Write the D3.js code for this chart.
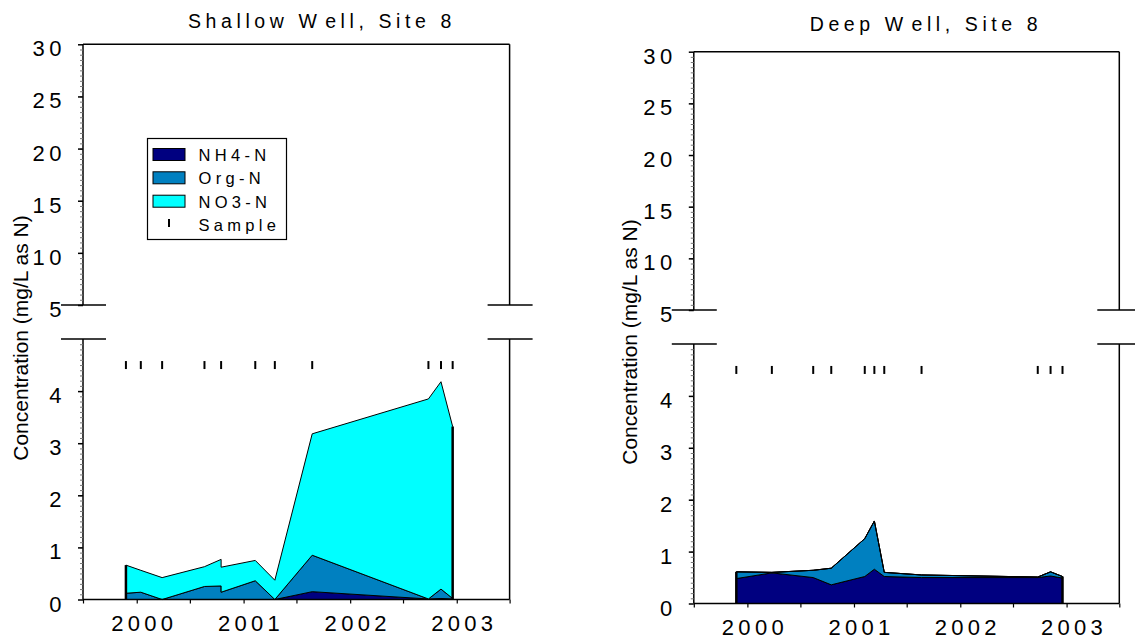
<!DOCTYPE html>
<html>
<head>
<meta charset="utf-8">
<script src="https://cdn.jsdelivr.net/npm/d3@7"></script>
<style>
  body { margin: 0; background: #fff; }
  svg { display: block; font-family: "Liberation Sans", Arial, Helvetica, sans-serif; }
</style>
</head>
<body>
<svg id="chart" width="1135" height="640"></svg>
<script>
// Nitrogen species, stacked (mg/L as N)
const seriesKeys   = ["nh4", "org", "no3"];
const seriesNames  = ["NH4-N", "Org-N", "NO3-N"];
const seriesColors = ["#000080", "#0080c0", "#00ffff"];

// Shallow well, site 8 (two results on 2000-10-16)
const shallowDates = ["1999-11-25", "2000-01-15", "2000-03-28", "2000-08-20", "2000-10-16", "2000-10-16",
                      "2001-02-10", "2001-04-18", "2001-08-24", "2002-09-26", "2002-11-08", "2002-12-18"];
const shallowNH4 = [0.00, 0.00, 0.00, 0.00, 0.00, 0.00, 0.00, 0.00, 0.15, 0.01, 0.02, 0.01];
const shallowOrg = [0.12, 0.14, 0.00, 0.25, 0.26, 0.14, 0.36, 0.00, 0.70, 0.00, 0.18, 0.01];
const shallowNO3 = [0.54, 0.42, 0.42, 0.38, 0.51, 0.48, 0.39, 0.37, 2.33, 3.84, 3.98, 3.30];
const shallowSamples = ["1999-11-25", "2000-01-15", "2000-03-28", "2000-08-20", "2000-10-16",
                        "2001-02-10", "2001-04-18", "2001-08-24", "2002-09-26", "2002-11-08", "2002-12-18"];

// Deep well, site 8
const deepDates = ["1999-11-24", "2000-03-25", "2000-08-14", "2000-10-15", "2001-02-07", "2001-03-12",
                   "2001-04-15", "2001-08-21", "2002-09-24", "2002-11-07", "2002-12-18"];
const deepNH4 = [0.48, 0.59, 0.50, 0.36, 0.52, 0.66, 0.52, 0.50, 0.50, 0.53, 0.49];
const deepOrg = [0.13, 0.01, 0.14, 0.32, 0.73, 0.93, 0.08, 0.05, 0.01, 0.08, 0.03];
const deepNO3 = [0.00, 0.00, 0.00, 0.00, 0.00, 0.00, 0.00, 0.00, 0.00, 0.00, 0.00];
const deepSamples = deepDates;

// Axis ticks
const lowerTicks = [0, 1, 2, 3, 4];
const upperTicks = [5, 10, 15, 20, 25, 30];
const yearTicks  = ["2000", "2001", "2002", "2003"];
const sampleLevel = 4.5;

const yTitle = "Concentration (mg/L as N)";

const parse = d3.timeParse("%Y-%m-%d");
const svg = d3.select("#chart");

function drawPanel(p) {
  const g = svg.append("g");

  const x = d3.scaleTime()
    .domain([new Date(1999, 6, 1), new Date(2003, 6, 1)])
    .range([p.left, p.right]);
  const yLow  = d3.scaleLinear().domain([0, 5]).range([p.bottom, p.lower5]);
  const yHigh = d3.scaleLinear().domain([5, 30]).range([p.upper5, p.top]);
  const y = v => (v <= 5 ? yLow(v) : yHigh(v));

  // stacked areas
  const rows = p.dates.map((d, i) => ({ date: parse(d), nh4: p.nh4[i], org: p.org[i], no3: p.no3[i] }));
  const stacked = d3.stack().keys(seriesKeys)(rows);
  const area = d3.area()
    .x(d => x(d.data.date))
    .y0(d => y(d[0]))
    .y1(d => y(d[1]));
  g.selectAll("path.layer")
    .data(stacked)
    .join("path")
    .attr("class", "layer")
    .attr("d", area)
    .attr("fill", (d, i) => seriesColors[i])
    .attr("stroke", "#000")
    .attr("stroke-width", 1)
    .attr("stroke-linejoin", "round");

  // heavy end edges of the filled region
  const first = rows[0], last = rows[rows.length - 1];
  [first, last].forEach(r => {
    g.append("line")
      .attr("x1", x(r.date)).attr("x2", x(r.date))
      .attr("y1", y(0)).attr("y2", y(r.nh4 + r.org + r.no3))
      .attr("stroke", "#000").attr("stroke-width", 2.5);
  });

  // sample markers
  g.selectAll("line.sample")
    .data(p.samples)
    .join("line")
    .attr("class", "sample")
    .attr("x1", d => x(parse(d))).attr("x2", d => x(parse(d)))
    .attr("y1", y(sampleLevel) - 4).attr("y2", y(sampleLevel) + 4)
    .attr("stroke", "#000").attr("stroke-width", 2);

  // frame with axis break
  const frame = g.append("g").attr("stroke", "#000").attr("stroke-width", 1.5).attr("fill", "none");
  frame.append("line").attr("x1", p.left).attr("x2", p.right).attr("y1", p.top).attr("y2", p.top);
  frame.append("line").attr("x1", p.left).attr("x2", p.right).attr("y1", p.bottom).attr("y2", p.bottom);
  [p.left, p.right].forEach(xx => {
    frame.append("line").attr("x1", xx).attr("x2", xx).attr("y1", p.top).attr("y2", p.upper5);
    frame.append("line").attr("x1", xx).attr("x2", xx).attr("y1", p.lower5).attr("y2", p.bottom);
    [p.upper5, p.lower5].forEach(yy => {
      frame.append("line").attr("x1", xx - 22).attr("x2", xx + 23).attr("y1", yy).attr("y2", yy);
    });
  });

  // minor y ticks
  const minorUp = d3.range(5.5, 30, 0.5);
  const minorLow = d3.range(1, 50).map(k => k / 10);
  [[yHigh, minorUp], [yLow, minorLow]].forEach(([sc, vals]) => {
    const a = g.append("g")
      .attr("transform", `translate(${p.left},0)`)
      .call(d3.axisLeft(sc).tickValues(vals).tickSize(3).tickFormat(""));
    a.select(".domain").remove();
    a.selectAll(".tick line").attr("stroke", "#777").attr("stroke-width", 1);
  });

  // major y ticks and labels
  [[yHigh, upperTicks], [yLow, lowerTicks]].forEach(([sc, vals]) => {
    const a = g.append("g")
      .attr("transform", `translate(${p.left},0)`)
      .call(d3.axisLeft(sc).tickValues(vals).tickSize(5).tickPadding(12).tickFormat(d3.format("d")));
    a.select(".domain").remove();
    a.selectAll(".tick line").attr("stroke", "#000").attr("stroke-width", 1.5);
    a.selectAll(".tick text")
      .attr("y", 4.5)
      .attr("fill", "#000")
      .style("font-size", "22px")
      .style("font-family", "'Liberation Sans', Arial, sans-serif")
      .attr("letter-spacing", "4.5px");
  });

  // x axis: half-year ticks, year labels on January
  const halfYears = d3.timeMonth.every(6).range(new Date(1999, 6, 1), new Date(2003, 6, 2));
  const xa = g.append("g")
    .attr("transform", `translate(0,${p.bottom})`)
    .call(d3.axisBottom(x).tickValues(halfYears).tickSize(4).tickPadding(2)
      .tickFormat(d => (d.getMonth() === 0 && yearTicks.includes(String(d.getFullYear()))) ? String(d.getFullYear()) : ""));
  xa.select(".domain").remove();
  xa.selectAll(".tick line").attr("stroke", "#000").attr("stroke-width", 1.2);
  xa.selectAll(".tick text")
    .attr("x", 7)
    .attr("y", 16)
    .attr("fill", "#000")
    .style("font-size", "22px")
    .style("font-family", "'Liberation Sans', Arial, sans-serif")
    .attr("letter-spacing", "4.3px");

  // title
  const t = g.append("text")
    .attr("x", p.titleX).attr("y", p.titleY)
    .attr("text-anchor", "middle")
    .attr("font-size", 19.5)
    .attr("letter-spacing", "4.6px")
    .attr("fill", "#000")
    .text(p.titleA);
  t.append("tspan").attr("dx", 4).text(p.titleB);

  // y-axis title
  g.append("text")
    .attr("transform", `translate(${p.yTitleX},${p.yTitleY}) rotate(-90)`)
    .attr("text-anchor", "middle")
    .attr("font-size", 21)
    .attr("fill", "#000")
    .text(yTitle);

  return { x, y };
}

drawPanel({
  left: 83, right: 509.6, top: 44.3, upper5: 305, lower5: 339, bottom: 599.5,
  dates: shallowDates, nh4: shallowNH4, org: shallowOrg, no3: shallowNO3, samples: shallowSamples,
  titleA: "Shallow W", titleB: "ell, Site 8", titleX: 322, titleY: 27.7,
  yTitleX: 28, yTitleY: 338
});

drawPanel({
  left: 693.8, right: 1119.3, top: 51.7, upper5: 310, lower5: 344, bottom: 603.5,
  dates: deepDates, nh4: deepNH4, org: deepOrg, no3: deepNO3, samples: deepSamples,
  titleA: "Deep W", titleB: "ell, Site 8", titleX: 926, titleY: 31,
  yTitleX: 637, yTitleY: 342
});

// legend (shallow-well panel)
const legend = svg.append("g");
legend.append("rect")
  .attr("x", 147.5).attr("y", 138.5).attr("width", 139).attr("height", 101)
  .attr("fill", "#fff").attr("stroke", "#000").attr("stroke-width", 1.2);
const rowY = [161, 184.3, 207.7, 231];
const legendFont = 16.5, legendSpacing = "4.3px";
seriesNames.forEach((name, i) => {
  legend.append("rect")
    .attr("x", 153).attr("y", rowY[i] - 12.5).attr("width", 32).attr("height", 12)
    .attr("fill", seriesColors[i]).attr("stroke", "#000").attr("stroke-width", 1);
  legend.append("text")
    .attr("x", 198.5).attr("y", rowY[i])
    .attr("font-size", legendFont).attr("letter-spacing", legendSpacing).attr("fill", "#000")
    .text(name);
});
legend.append("line")
  .attr("x1", 169).attr("x2", 169).attr("y1", rowY[3] - 12).attr("y2", rowY[3] - 4)
  .attr("stroke", "#000").attr("stroke-width", 2);
legend.append("text")
  .attr("x", 198.5).attr("y", rowY[3])
  .attr("font-size", legendFont).attr("letter-spacing", legendSpacing).attr("fill", "#000")
  .text("Sample");
</script>
</body>
</html>
